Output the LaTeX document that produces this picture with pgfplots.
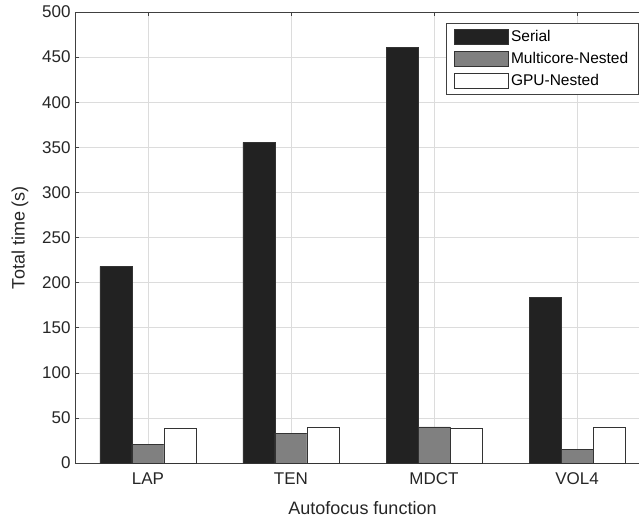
\documentclass[border=0pt]{standalone}
\usepackage{fontspec}
\setmainfont{Liberation Sans}
\usepackage{pgfplots}
\pgfplotsset{compat=1.18}
\definecolor{serialc}{HTML}{222222}
\definecolor{multic}{HTML}{808080}
\definecolor{edgec}{HTML}{333333}
\definecolor{gridc}{HTML}{DCDCDC}
\definecolor{axc}{HTML}{404040}
\begin{document}
\begin{tikzpicture}
\useasboundingbox (-75pt,-57pt) rectangle (564pt,463pt);
\clip (-75pt,-57pt) rectangle (564pt,463pt);
\begin{axis}[
  at={(0,0)}, anchor=south west,
  scale only axis, width=575pt, height=451pt,
  xmin=0.49, xmax=4.51, ymin=0, ymax=500,
  axis line style={axc, line width=0.8pt},
  ybar=0pt, bar width=32pt,
  xtick={1,2,3,4}, xticklabels={LAP,TEN,MDCT,VOL4},
  ytick={0,50,...,500},
  tick align=inside, major tick length=4pt,
  tick style={axc, line width=0.5pt},
  xtick pos=both, ytick pos=left,
  grid=major, major grid style={gridc, line width=0.6pt},
  /pgf/number format/assume math mode=true,
  ticklabel style={font=\fontsize{17}{20}\selectfont, text=black!85},
  xticklabel style={yshift=-6pt},
  yticklabel style={xshift=-1pt},
  xlabel={Autofocus function}, ylabel={Total time (s)},
  label style={font=\fontsize{18}{21}\selectfont, text=black!85},
  x label style={at={(axis cs:2.5,0)}, anchor=north, yshift=-35pt},
  y label style={at={(axis description cs:0,0.5)}, anchor=south, yshift=43pt},
  legend style={at={(rel axis cs:0.980,0.976)}, anchor=north east,
    draw=axc, line width=0.6pt, fill=white, font=\fontsize{15.5}{18}\selectfont,
    row sep=5.5pt, inner xsep=8pt, inner ysep=5pt},
  legend cell align=left,
  legend image code/.code={\draw[#1, line width=0.6pt] (0pt,-7.5pt) rectangle (54pt,7.5pt);},
  every axis plot/.append style={draw=edgec, line width=0.6pt},
]
\addplot[fill=serialc, draw=edgec] coordinates {(1,218) (2,355.5) (3,461) (4,183.5)};
\addplot[fill=multic, draw=edgec] coordinates {(1,21) (2,33) (3,40) (4,15.5)};
\addplot[fill=white, draw=edgec] coordinates {(1,39) (2,40) (3,39) (4,40)};
\legend{Serial, Multicore-Nested, GPU-Nested}
\end{axis}
\end{tikzpicture}
\end{document}
